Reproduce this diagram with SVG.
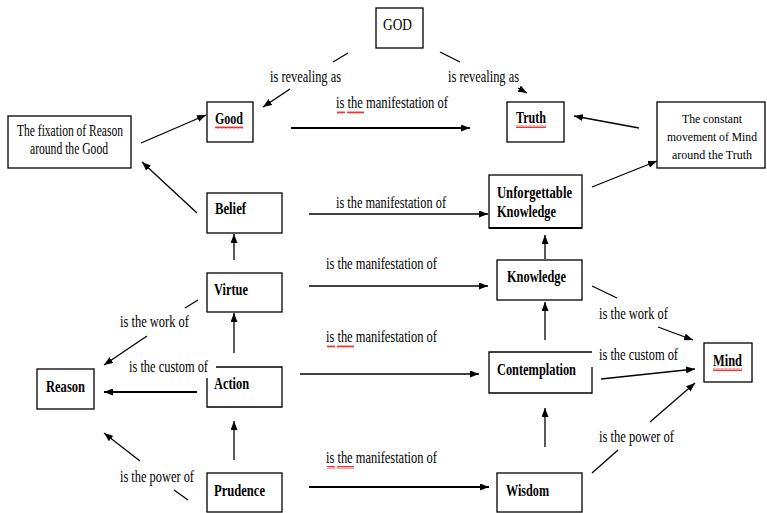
<svg xmlns="http://www.w3.org/2000/svg" width="767" height="513" viewBox="0 0 767 513">
<style>
.box{fill:#fff;stroke:#000;stroke-width:1.3}
text{font-family:'Liberation Serif','DejaVu Serif',serif;font-size:16px;fill:#000}
text.s{font-size:13.5px}
.b{font-weight:bold}
.c line{stroke:#000;stroke-width:1.3;fill:none}
.c .thick{stroke-width:2}
.sq{fill:url(#sq)}
</style>
<defs>
<marker id="ah" markerWidth="9" markerHeight="7" refX="9" refY="3.5" orient="auto" markerUnits="userSpaceOnUse"><path d="M0,0 L9,3.5 L0,7 z" fill="#000"/></marker>
<pattern id="sq" width="4" height="3" patternUnits="userSpaceOnUse"><path d="M0,2.5 L1,0.5 L2,2.5 L3,0.5 L4,2.5" stroke="#e00" stroke-width="0.8" fill="none"/></pattern>
</defs>
<rect width="767" height="513" fill="#fff"/>

<g class="c" id="connectors">
<line x1="348" y1="53" x2="333" y2="62"/>
<line x1="290" y1="89" x2="263" y2="107" marker-end="url(#ah)"/>
<line x1="440" y1="52" x2="460" y2="62"/>
<line x1="518" y1="88" x2="527" y2="93" marker-end="url(#ah)"/>
<line class="thick" x1="291" y1="128" x2="470" y2="128" marker-end="url(#ah)"/>
<line x1="141" y1="143" x2="206" y2="115" marker-end="url(#ah)"/>
<line x1="197" y1="213" x2="142" y2="162" marker-end="url(#ah)"/>
<line x1="639" y1="128" x2="574" y2="116" marker-end="url(#ah)"/>
<line x1="592" y1="187" x2="657" y2="161" marker-end="url(#ah)"/>
<line x1="309" y1="214" x2="488" y2="214" marker-end="url(#ah)"/>
<line x1="309" y1="286" x2="488" y2="286" marker-end="url(#ah)"/>
<line x1="300" y1="374" x2="479" y2="374" marker-end="url(#ah)"/>
<line class="thick" x1="309" y1="487" x2="489" y2="487" marker-end="url(#ah)"/>
<line x1="234" y1="260" x2="234" y2="234" marker-end="url(#ah)"/>
<line x1="234" y1="353" x2="234" y2="313" marker-end="url(#ah)"/>
<line x1="234" y1="460" x2="234" y2="421" marker-end="url(#ah)"/>
<line x1="198" y1="300" x2="185" y2="308"/>
<line x1="147" y1="336" x2="104" y2="365" marker-end="url(#ah)"/>
<line class="thick" x1="197" y1="392" x2="104" y2="392" marker-end="url(#ah)"/>
<line x1="188" y1="500" x2="174" y2="490"/>
<line x1="140" y1="461" x2="104" y2="433" marker-end="url(#ah)"/>
<line x1="545" y1="340" x2="545" y2="302" marker-end="url(#ah)"/>
<line x1="545" y1="259" x2="545" y2="235" marker-end="url(#ah)"/>
<line x1="545" y1="447" x2="545" y2="408" marker-end="url(#ah)"/>
<line x1="592" y1="286" x2="617" y2="298"/>
<line x1="658" y1="327" x2="693" y2="340" marker-end="url(#ah)"/>
<line x1="601" y1="379" x2="695" y2="369" marker-end="url(#ah)"/>
<line x1="592" y1="473" x2="618" y2="450"/>
<line x1="650" y1="422" x2="695" y2="383" marker-end="url(#ah)"/>
</g>

<g id="labels">
<text x="270" y="82" textLength="71" lengthAdjust="spacingAndGlyphs">is revealing as</text>
<text x="448" y="82" textLength="71" lengthAdjust="spacingAndGlyphs">is revealing as</text>
<text x="336" y="108" textLength="112" lengthAdjust="spacingAndGlyphs">is the manifestation of</text>
<rect class="sq" x="337" y="111" width="8" height="3"/><rect class="sq" x="347" y="111" width="17" height="3"/>
<text x="336" y="208" textLength="110" lengthAdjust="spacingAndGlyphs">is the manifestation of</text>
<text x="326" y="269" textLength="111" lengthAdjust="spacingAndGlyphs">is the manifestation of</text>
<text x="326" y="342" textLength="111" lengthAdjust="spacingAndGlyphs">is the manifestation of</text>
<rect class="sq" x="327" y="345" width="8" height="3"/><rect class="sq" x="337" y="345" width="17" height="3"/>
<text x="326" y="463" textLength="111" lengthAdjust="spacingAndGlyphs">is the manifestation of</text>
<rect class="sq" x="327" y="466" width="8" height="3"/><rect class="sq" x="337" y="466" width="17" height="3"/>
<text x="120" y="327" textLength="69" lengthAdjust="spacingAndGlyphs">is the work of</text>
<text x="129" y="372" textLength="79" lengthAdjust="spacingAndGlyphs">is the custom of</text>
<text x="120" y="482" textLength="74" lengthAdjust="spacingAndGlyphs">is the power of</text>
<text x="599" y="319" textLength="69" lengthAdjust="spacingAndGlyphs">is the work of</text>
<text x="599" y="360" textLength="79" lengthAdjust="spacingAndGlyphs">is the custom of</text>
<text x="599" y="442" textLength="75" lengthAdjust="spacingAndGlyphs">is the power of</text>
</g>

<g id="god"><rect class="box" x="376" y="8" width="47" height="40"/>
<text x="383" y="30" textLength="29" lengthAdjust="spacingAndGlyphs">GOD</text></g>

<g id="good"><rect class="box" x="207" y="102" width="46" height="40"/>
<text class="b" x="215" y="124" textLength="28" lengthAdjust="spacingAndGlyphs">Good</text>
<rect class="sq" x="215" y="126" width="28" height="3"/></g>

<g id="truth"><rect class="box" x="507" y="102" width="57" height="40"/>
<text class="b" x="516" y="123" textLength="30" lengthAdjust="spacingAndGlyphs">Truth</text>
<rect class="sq" x="516" y="125" width="30" height="3"/></g>

<g id="fixation"><rect class="box" x="8" y="116" width="123" height="52"/>
<text x="17" y="136" textLength="106" lengthAdjust="spacingAndGlyphs">The fixation of Reason</text>
<text x="30" y="154" textLength="78" lengthAdjust="spacingAndGlyphs">around the Good</text></g>

<g id="constant"><rect class="box" x="657" y="102" width="108" height="66"/>
<text class="s" x="712" y="123" text-anchor="middle" textLength="60" lengthAdjust="spacingAndGlyphs">The constant</text>
<text class="s" x="712" y="141" text-anchor="middle" textLength="90" lengthAdjust="spacingAndGlyphs">movement of Mind</text>
<text class="s" x="712" y="159" text-anchor="middle" textLength="80" lengthAdjust="spacingAndGlyphs">around the Truth</text></g>

<g id="belief"><rect class="box" x="207" y="193" width="75" height="40"/>
<text class="b" x="215" y="214" textLength="31" lengthAdjust="spacingAndGlyphs">Belief</text></g>

<g id="virtue"><rect class="box" x="207" y="273" width="75" height="39"/>
<text class="b" x="214" y="295" textLength="34" lengthAdjust="spacingAndGlyphs">Virtue</text></g>

<g id="action"><path class="box" d="M216,367 H282 V407 H207 V378"/>
<text class="b" x="214" y="389" textLength="35" lengthAdjust="spacingAndGlyphs">Action</text></g>

<g id="prudence"><rect class="box" x="207" y="473" width="75" height="39"/>
<text class="b" x="214" y="496" textLength="51" lengthAdjust="spacingAndGlyphs">Prudence</text></g>

<g id="reason"><rect class="box" x="37" y="369" width="57" height="40"/>
<text class="b" x="46" y="392" textLength="39" lengthAdjust="spacingAndGlyphs">Reason</text></g>

<g id="unforgettable"><rect class="box" x="489" y="175" width="93" height="53"/>
<line x1="489" y1="228" x2="582" y2="228" stroke="#000" stroke-width="2.2"/>
<text class="b" x="497" y="198" textLength="75" lengthAdjust="spacingAndGlyphs">Unforgettable</text>
<text class="b" x="497" y="217" textLength="59" lengthAdjust="spacingAndGlyphs">Knowledge</text></g>

<g id="knowledge"><rect class="box" x="497" y="260" width="85" height="40"/>
<text class="b" x="507" y="282" textLength="59" lengthAdjust="spacingAndGlyphs">Knowledge</text></g>

<g id="contemplation"><path class="box" d="M592,367 V393 H489 V352 H592"/>
<text class="b" x="497" y="375" textLength="79" lengthAdjust="spacingAndGlyphs">Contemplation</text></g>

<g id="wisdom"><rect class="box" x="497" y="473" width="85" height="39"/>
<text class="b" x="506" y="496" textLength="43" lengthAdjust="spacingAndGlyphs">Wisdom</text></g>

<g id="mind"><rect class="box" x="704" y="343" width="48" height="39"/>
<text class="b" x="713" y="366" textLength="29" lengthAdjust="spacingAndGlyphs">Mind</text>
<rect class="sq" x="713" y="368" width="29" height="3"/></g>
</svg>
